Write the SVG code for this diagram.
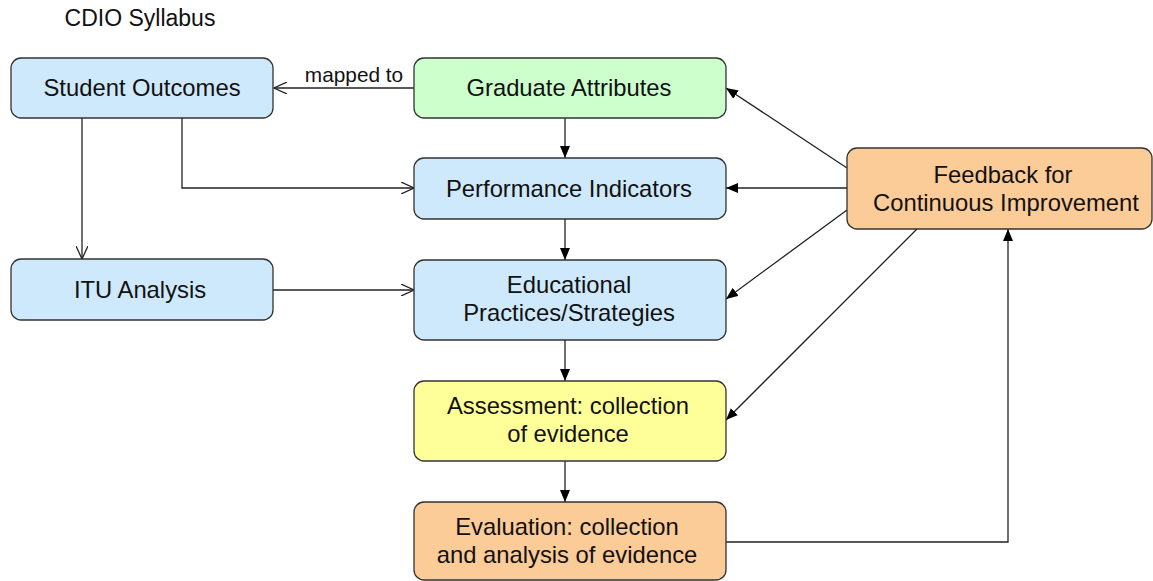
<svg xmlns="http://www.w3.org/2000/svg" width="1153" height="581" viewBox="0 0 1153 581">
<style>
.box{stroke:#333;stroke-width:1.3}
.blue{fill:#cfe9fc}.green{fill:#ccffcc}.yellow{fill:#ffff99}.orange{fill:#fbcb98}
text{font-family:"Liberation Sans",Arial,sans-serif;font-size:23.8px;fill:#111;text-anchor:middle}
.lbl{font-size:20.8px}
.c{fill:none;stroke:#222;stroke-width:1.3}
</style>
<defs>
<marker id="filled" viewBox="0 0 12 10" refX="12" refY="5" markerWidth="12" markerHeight="10" markerUnits="userSpaceOnUse" orient="auto">
<path d="M0,0 L12,5 L0,10 Z" fill="#000"/>
</marker>
<marker id="open" viewBox="0 0 14 12" refX="13" refY="6" markerWidth="14" markerHeight="12" markerUnits="userSpaceOnUse" orient="auto">
<path d="M0,0 L13,6 L0,12" fill="none" stroke="#222" stroke-width="1.3"/>
</marker>
</defs>
<rect width="1153" height="581" fill="#fff"/>
<text x="140" y="26" style="font-size:23px">CDIO Syllabus</text>
<g id="connectors">
<path class="c" d="M414,88 H274" marker-end="url(#open)"/>
<text class="lbl" x="354" y="82">mapped to</text>
<path class="c" d="M565,118 V158" marker-end="url(#filled)"/>
<path class="c" d="M182,118 V188 H414" marker-end="url(#open)"/>
<path class="c" d="M82,118 V259" marker-end="url(#open)"/>
<path class="c" d="M565,219 V260" marker-end="url(#filled)"/>
<path class="c" d="M273,290 H414" marker-end="url(#open)"/>
<path class="c" d="M565,340 V381" marker-end="url(#filled)"/>
<path class="c" d="M565,461 V502" marker-end="url(#filled)"/>
<path class="c" d="M726,542 H1008 V229" marker-end="url(#filled)"/>
<path class="c" d="M847,168 L726,88" marker-end="url(#filled)"/>
<path class="c" d="M847,188 H726" marker-end="url(#filled)"/>
<path class="c" d="M847,210 L726,299" marker-end="url(#filled)"/>
<path class="c" d="M917,229 L726,420" marker-end="url(#filled)"/>
</g>
<g id="student-outcomes"><rect class="box blue" x="11" y="58" width="262" height="60" rx="10"/><text x="142" y="96">Student Outcomes</text></g>
<g id="graduate-attributes"><rect class="box green" x="414" y="58" width="312" height="60" rx="10"/><text x="569" y="96">Graduate Attributes</text></g>
<g id="performance-indicators"><rect class="box blue" x="414" y="158" width="312" height="61" rx="10"/><text x="569" y="197">Performance Indicators</text></g>
<g id="itu-analysis"><rect class="box blue" x="11" y="259" width="262" height="61" rx="10"/><text x="140" y="298">ITU Analysis</text></g>
<g id="educational-practices"><rect class="box blue" x="414" y="260" width="312" height="80" rx="10"/><text x="569" y="293">Educational</text><text x="569" y="321">Practices/Strategies</text></g>
<g id="assessment"><rect class="box yellow" x="414" y="381" width="312" height="80" rx="10"/><text x="568" y="414">Assessment: collection</text><text x="568" y="442">of evidence</text></g>
<g id="evaluation"><rect class="box orange" x="414" y="502" width="312" height="78" rx="10"/><text x="567" y="535">Evaluation: collection</text><text x="567" y="563">and analysis of evidence</text></g>
<g id="feedback"><rect class="box orange" x="847" y="148" width="305" height="81" rx="10"/><text x="1003" y="183">Feedback for</text><text x="1006" y="211">Continuous Improvement</text></g>
</svg>
